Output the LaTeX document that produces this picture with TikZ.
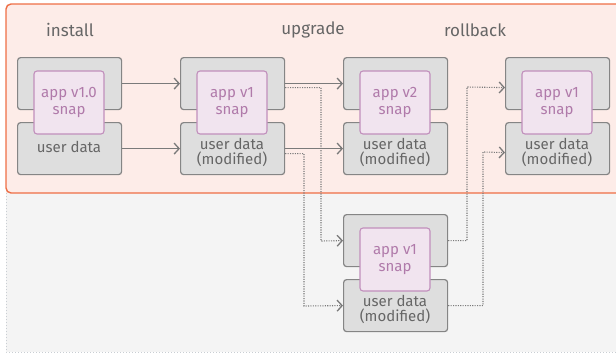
\documentclass[tikz,border=0pt]{standalone}
\usepackage{fontspec}
\setmainfont{Fira Sans}
\usetikzlibrary{arrows.meta}
\definecolor{bgGrey}{HTML}{F4F4F4}
\definecolor{bgEdge}{HTML}{C9CED3}
\definecolor{zoneFill}{HTML}{FDECE8}
\definecolor{zoneEdge}{HTML}{EE6E45}
\definecolor{boxFill}{HTML}{DEDEDE}
\definecolor{boxEdge}{HTML}{858585}
\definecolor{snapFill}{HTML}{F1E4EF}
\definecolor{snapEdge}{HTML}{C18FBC}
\definecolor{snapText}{HTML}{B07AAA}
\definecolor{ink}{HTML}{666666}
\definecolor{wire}{HTML}{7A7A7A}
\tikzset{
  half/.style={draw=boxEdge, fill=boxFill, line width=1.2pt, rounded corners=3pt,
    minimum width=104pt, minimum height=52pt, inner sep=0pt, anchor=north west},
  snapbox/.style={draw=snapEdge, fill=snapFill, line width=1.1pt, rounded corners=3pt,
    minimum width=70pt, minimum height=63pt, inner sep=0pt, text=snapText,
    font=\fontsize{15}{17}\selectfont, align=center},
  datatext/.style={text=ink, font=\fontsize{15}{15}\selectfont, align=center, inner sep=0pt},
  phase/.style={text=ink, font=\fontsize{17}{19}\selectfont},
  solidarrow/.style={draw=wire, line width=1.2pt, -{Straight Barb[length=5pt,width=11pt,line width=1.3pt]}},
  dotarrow/.style={draw=wire, line width=1.1pt, dash pattern=on 1.1pt off 1.3pt,
    -{Straight Barb[length=5pt,width=11pt,line width=1.3pt]}},
}
% one snap with its data: upper half, lower half, snap in the middle
\newcommand{\snapset}[6]{%
  \node[half] (#1u) at (#2,#3) {};
  \node[half] (#1l) at (#2,#3+65) {};
  \node[snapbox] (#1s) at (#2+52,#3+45.5) {#4\\snap};
  \node[datatext] (#1t) at (#2+52,#3+#6) {#5};
}
\begin{document}
\begin{tikzpicture}[x=1pt,y=-1pt]
\useasboundingbox (0,0) rectangle (616,354);
% background areas
\path[fill=bgGrey] (6,6) rectangle (620,352);
\draw[bgEdge, line width=1pt, dash pattern=on 1pt off 2pt] (6,10) -- (6,352) -- (620,352);
\draw[zoneEdge, fill=zoneFill, line width=1.4pt, rounded corners=5pt] (640,4) -- (6,4) -- (6,193) -- (640,193);
% phase titles
\node[phase] (tInstall) at (70,30) {install};
\node[phase] (tUpgrade) at (313,30) {upgrade};
\node[phase] (tRollback) at (475,30) {rollback};
% snaps
\snapset{a}{17}{57}{app v1.0}{user data}{90}
\snapset{b}{180}{57}{app v1}{user data\\(modified)}{95.5}
\snapset{c}{343}{57}{app v2}{user data\\(modified)}{95.5}
\snapset{d}{505}{57}{app v1}{user data\\(modified)}{95.5}
\snapset{e}{343}{214}{app v1}{user data\\(modified)}{95.5}
% solid transitions
\draw[solidarrow] (au.east) -- (bu.west);
\draw[solidarrow] (al.east) -- (bl.west);
\draw[solidarrow] (bu.east) -- (cu.west);
\draw[solidarrow] (bl.east) -- (cl.west);
% dotted paths through the rollback copy
\coordinate (p1) at ([yshift=-4pt]bu.east);
\coordinate (p2) at ([yshift=-5pt]bl.east);
\draw[dotarrow] (p1) -| (321,241) -- (eu.west);
\draw[dotarrow] (p2) -| (304,306) -- (el.west);
\draw[dotarrow] (eu.east) -| (467,87) -- ([yshift=-4pt]du.west);
\draw[dotarrow] (el.east) -| (483,152) -- ([yshift=-4pt]dl.west);
\end{tikzpicture}
\end{document}
